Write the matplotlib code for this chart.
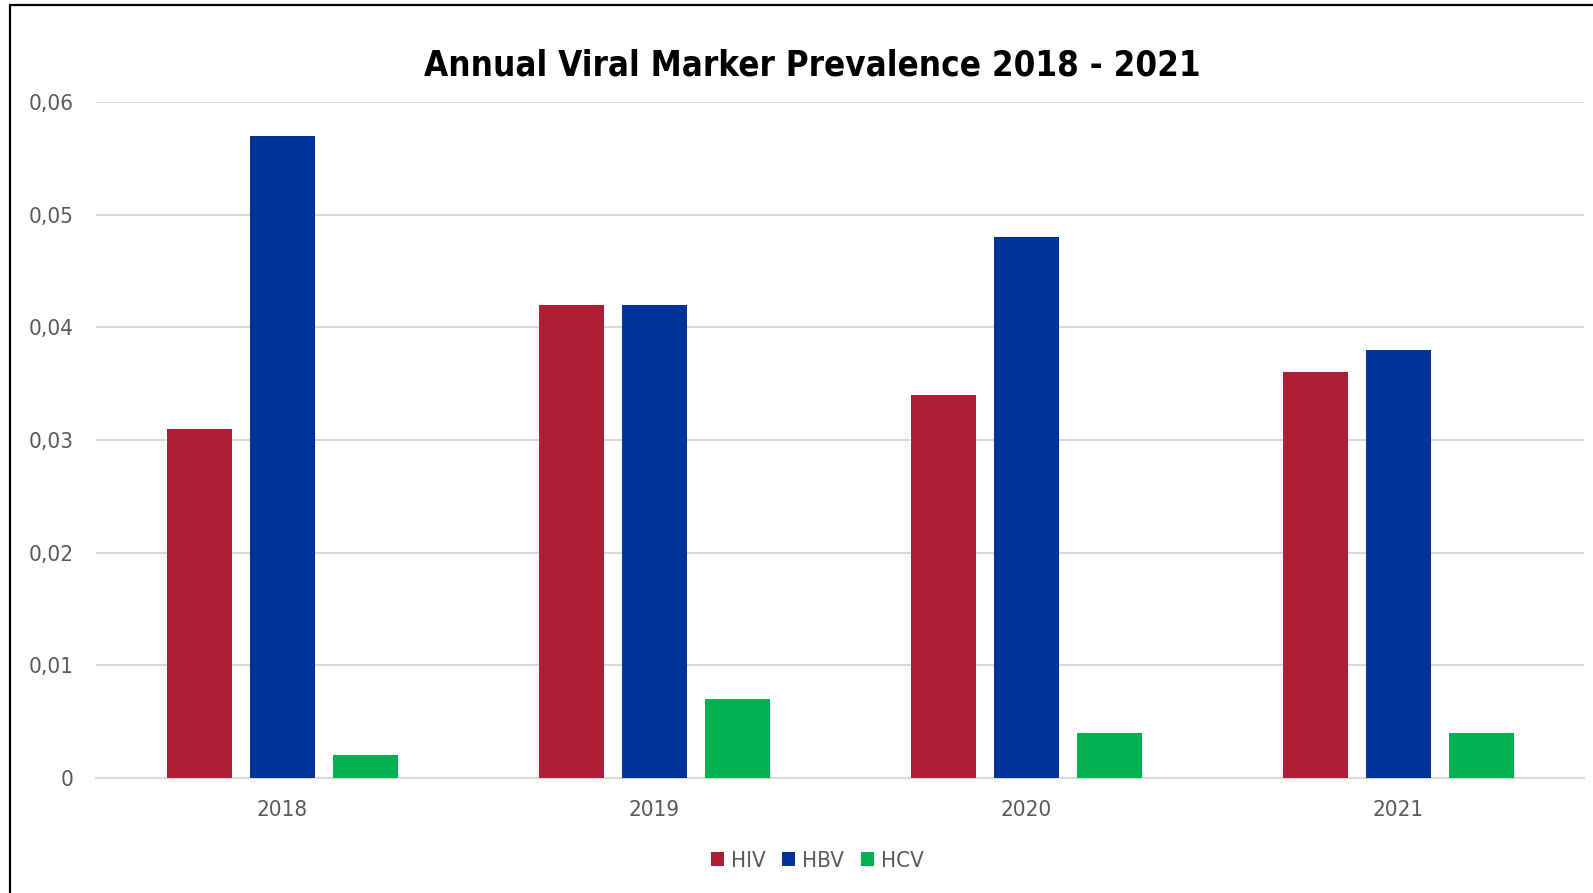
import numpy as np
import matplotlib.pyplot as plt
from matplotlib.patches import Rectangle
from matplotlib.ticker import FuncFormatter

years = ["2018", "2019", "2020", "2021"]
hiv = [0.031, 0.042, 0.034, 0.036]
hbv = [0.057, 0.042, 0.048, 0.038]
hcv = [0.002, 0.007, 0.004, 0.004]

series = [("HIV", hiv, "#AE1E36"), ("HBV", hbv, "#003399"), ("HCV", hcv, "#00B050")]

plt.rcParams['font.family'] = ['DejaVu Sans']
plt.rcParams['font.stretch'] = 'condensed'
grey_text = "#595959"

W, H = 1593, 893
fig = plt.figure(figsize=(W / 100, H / 100), dpi=100)

# the chart frame (right and bottom edges fall outside the picture)
fig.patches.append(Rectangle((10 / W, -0.05), 1.2, 1 - 5 / H + 0.05,
                             transform=fig.transFigure, fill=False,
                             edgecolor="black", linewidth=1.6))

ax = fig.add_axes([96 / W, 1 - 778 / H, (1584 - 96) / W, (778 - 102) / H])

x = np.arange(len(years))
width = 65 / 372
step = 83 / 372
for i, (name, vals, col) in enumerate(series):
    ax.bar(x + (i - 1) * step, vals, width=width, color=col, label=name, zorder=3)

ax.set_xlim(-0.5, len(years) - 0.5)
ax.set_ylim(0, 0.06)
ax.set_yticks(np.arange(0, 0.061, 0.01))
ax.yaxis.set_major_formatter(FuncFormatter(
    lambda v, p: "0" if abs(v) < 1e-9 else f"{v:.2f}".replace(".", ",")))
ax.set_xticks(x)
ax.set_xticklabels(years)
ax.grid(axis="y", color="#D9D9D9", linewidth=1.5, zorder=0)
for s in ["top", "right", "left"]:
    ax.spines[s].set_visible(False)
ax.spines["bottom"].set_color("#D9D9D9")
ax.spines["bottom"].set_linewidth(1.5)
ax.tick_params(axis="both", length=0, labelsize=16, colors=grey_text)
ax.tick_params(axis="y", pad=16)
ax.tick_params(axis="x", pad=16)

fig.text(0.51, 1 - 65 / H, "Annual Viral Marker Prevalence 2018 - 2021",
         ha="center", va="center", fontsize=25, fontweight="bold", color="black")

leg = fig.legend(loc="center", bbox_to_anchor=(0.513, 1 - 861 / H), ncol=3,
                 frameon=False, fontsize=16, handlelength=0.6, handleheight=0.6,
                 handletextpad=0.3, columnspacing=0.75)
for t in leg.get_texts():
    t.set_color(grey_text)

fig.savefig("out.png", dpi=100)
